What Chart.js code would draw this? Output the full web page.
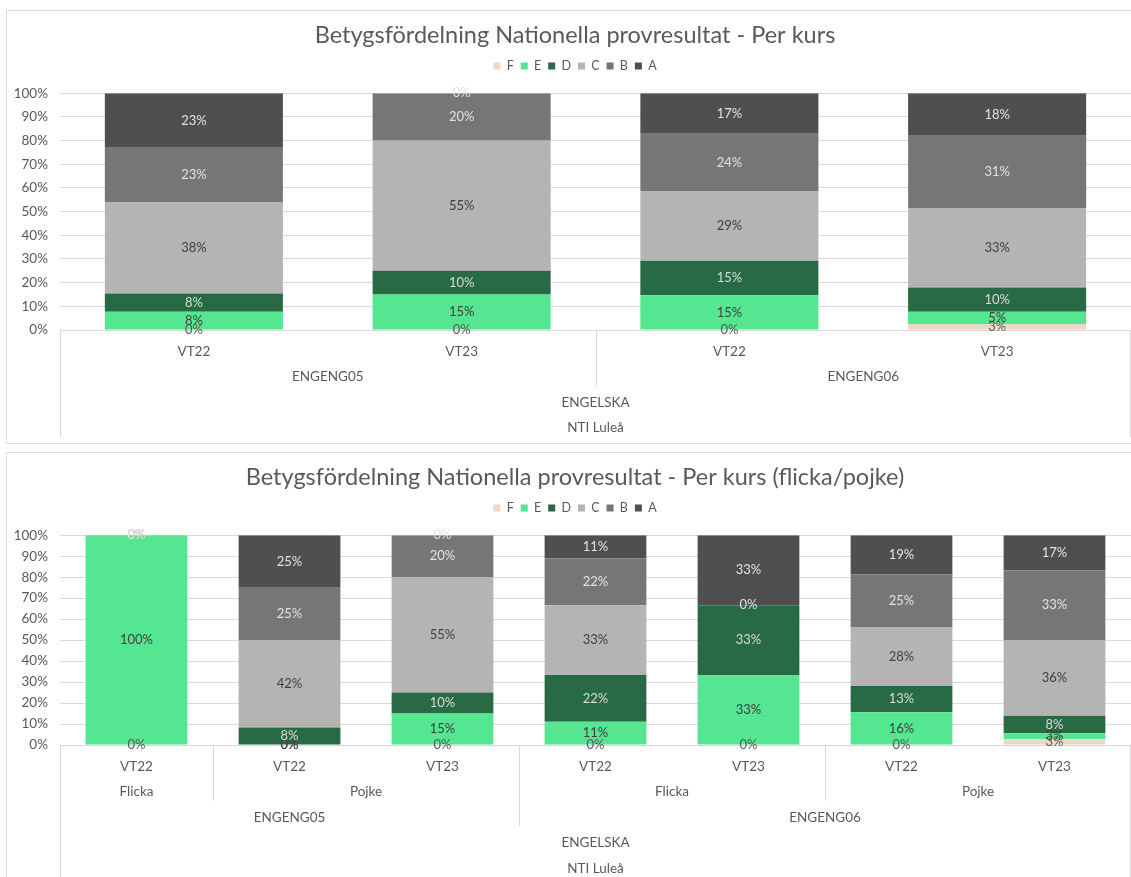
<!DOCTYPE html>
<html>
<head>
<meta charset="utf-8">
<script src="https://cdn.jsdelivr.net/npm/chart.js@4.4.0/dist/chart.umd.min.js"></script>
<style>
html,body{margin:0;padding:0;background:#fff;overflow:hidden;width:1131px;height:877px;}
.box{position:absolute;border:1px solid #d9d9d9;box-sizing:border-box;}
.wrap{position:absolute;left:0;width:1150px;}
</style>
</head>
<body>
<div class="box" style="left:6px;top:10px;width:1150px;height:434px"></div>
<div class="box" style="left:6px;top:452px;width:1150px;height:440px"></div>
<div class="wrap" style="top:0;height:443px"><canvas id="c1"></canvas></div>
<div class="wrap" style="top:442px;height:435px"><canvas id="c2"></canvas></div>
<script>
// ---------- shared ----------
const gradeNames  = ['F', 'E', 'D', 'C', 'B', 'A'];
const gradeColors = ['#F2D6C8', '#55E691', '#276A43', '#B4B4B4', '#767676', '#4F4F4F'];
const gradeLabelColors = ['#595959', '#404040', '#DADADA', '#404040', '#E2E2E2', '#E2E2E2'];
const yTicks = [0, 10, 20, 30, 40, 50, 60, 70, 80, 90, 100];

// ---------- chart 1: per kurs ----------
const k1Title   = 'Betygsfördelning Nationella provresultat - Per kurs';
const k1Terms   = ['VT22', 'VT23', 'VT22', 'VT23'];
const k1Courses = [['ENGENG05', 0, 1], ['ENGENG06', 2, 3]];
const k1Subject = [['ENGELSKA', 0, 3]];
const k1School  = [['NTI Luleå', 0, 3]];
const k1F = [0,     0,  0,     2.56];
const k1E = [7.69,  15, 14.63, 5.13];
const k1D = [7.69,  10, 14.63, 10.26];
const k1C = [38.46, 55, 29.27, 33.33];
const k1B = [23.08, 20, 24.39, 30.77];
const k1A = [23.08, 0,  17.07, 17.95];

// ---------- chart 2: per kurs (flicka/pojke) ----------
const k2Title   = 'Betygsfördelning Nationella provresultat - Per kurs (flicka/pojke)';
const k2Terms   = ['VT22', 'VT22', 'VT23', 'VT22', 'VT23', 'VT22', 'VT23'];
const k2Gender  = [['Flicka', 0, 0], ['Pojke', 1, 2], ['Flicka', 3, 4], ['Pojke', 5, 6]];
const k2Courses = [['ENGENG05', 0, 2], ['ENGENG06', 3, 6]];
const k2Subject = [['ENGELSKA', 0, 6]];
const k2School  = [['NTI Luleå', 0, 6]];
const k2F = [0,   0,     0,  0,     0,     0,     2.78];
const k2E = [100, 0,     15, 11.11, 33.33, 15.63, 2.78];
const k2D = [0,   8.33,  10, 22.22, 33.33, 12.5,  8.33];
const k2C = [0,   41.67, 55, 33.33, 0,     28.13, 36.11];
const k2B = [0,   25,    20, 22.22, 0,     25,    33.33];
const k2A = [0,   25,    0,  11.11, 33.33, 18.75, 16.67];

const FONT = 'Lato, "Noto Sans", sans-serif';
const TXT = '#595959';

const barLabels = {
  id: 'barLabels',
  afterDatasetsDraw(chart) {
    const ctx = chart.ctx;
    ctx.save();
    ctx.font = '13px ' + FONT;
    ctx.textAlign = 'center';
    ctx.textBaseline = 'middle';
    chart.data.datasets.forEach((ds, di) => {
      const meta = chart.getDatasetMeta(di);
      meta.data.forEach((bar, i) => {
        const p = bar.getProps(['x', 'y', 'base'], true);
        ctx.fillStyle = gradeLabelColors[di];
        ctx.fillText(Math.round(ds.data[i]) + '%', p.x, (p.y + p.base) / 2);
      });
    });
    ctx.restore();
  }
};

const groupAxis = {
  id: 'groupAxis',
  afterDraw(chart, args, opts) {
    const xs = chart.scales.x, area = chart.chartArea, ctx = chart.ctx;
    const half = (xs.getPixelForValue(1) - xs.getPixelForValue(0)) / 2;
    const yFor = k => area.bottom + opts.first + opts.step * k;
    const line = (x, y0, y1) => {
      const xx = Math.round(x) + 0.5;
      ctx.beginPath(); ctx.moveTo(xx, y0); ctx.lineTo(xx, y1); ctx.stroke();
    };
    ctx.save();
    ctx.strokeStyle = '#D9D9D9';
    ctx.lineWidth = 1;
    ctx.fillStyle = TXT;
    ctx.font = '13.5px ' + FONT;
    ctx.textAlign = 'center';
    ctx.textBaseline = 'middle';
    opts.levels.forEach((groups, li) => {
      const k = li + 1;
      groups.forEach(([label, s, e], gi) => {
        const cx = (xs.getPixelForValue(s) + xs.getPixelForValue(e)) / 2;
        ctx.fillText(label, cx, yFor(k));
        if (gi > 0) line(xs.getPixelForValue(s) - half, area.bottom, yFor(k) + 9);
      });
    });
    const depth = yFor(opts.levels.length) + 9;
    line(area.left, area.bottom, depth);
    line(area.right - 1, area.bottom, depth);
    ctx.restore();
  }
};

function makeChart(id, title, terms, series, levels, axisHeight) {
  return new Chart(document.getElementById(id), {
    type: 'bar',
    data: {
      labels: terms,
      datasets: series.map((vals, i) => ({
        label: gradeNames[i],
        data: vals,
        backgroundColor: gradeColors[i],
        borderWidth: 0,
        categoryPercentage: 1,
        barPercentage: 0.665
      }))
    },
    plugins: [barLabels, groupAxis],
    options: {
      responsive: true,
      maintainAspectRatio: false,
      animation: false,
      layout: { padding: 0 },
      plugins: {
        title: {
          display: true, text: title, color: TXT,
          font: { family: FONT, size: 23.5, weight: 'normal', lineHeight: 1.2 },
          padding: { top: 21, bottom: 3.5 }
        },
        subtitle: {
          display: true, text: '', weight: 500,
          font: { size: 1, lineHeight: 1 },
          padding: { top: 0, bottom: 10 }
        },
        legend: {
          display: true, position: 'top',
          labels: {
            color: TXT, boxWidth: 7, boxHeight: 7, padding: 7,
            font: { family: FONT, size: 12.5 }
          }
        },
        tooltip: { enabled: false },
        groupAxis: { levels: levels, first: 21, step: 25.7 }
      },
      scales: {
        x: {
          stacked: true,
          grid: { display: false, drawTicks: false },
          border: { display: true, color: '#D9D9D9' },
          ticks: { color: TXT, padding: 14, font: { family: FONT, size: 13.5 }, maxRotation: 0, autoSkip: false },
          afterFit(s) { s.height = axisHeight; }
        },
        y: {
          stacked: true, min: 0, max: 100,
          afterBuildTicks(s) { s.ticks = yTicks.map(v => ({ value: v })); },
          grid: { color: '#D9D9D9', drawTicks: false },
          border: { display: false },
          ticks: { color: TXT, padding: 12, font: { family: FONT, size: 13.5 }, callback: v => v + '%' },
          afterFit(s) { s.width = 60; }
        },
        yRight: {
          position: 'right', display: true,
          grid: { display: false, drawTicks: false },
          border: { display: false },
          ticks: { display: false },
          afterFit(s) { s.width = 19; }
        }
      }
    }
  });
}

makeChart('c1', k1Title, k1Terms, [k1F, k1E, k1D, k1C, k1B, k1A], [k1Courses, k1Subject, k1School], 113);
makeChart('c2', k2Title, k2Terms, [k2F, k2E, k2D, k2C, k2B, k2A], [k2Gender, k2Courses, k2Subject, k2School], 132);
</script>
</body>
</html>
